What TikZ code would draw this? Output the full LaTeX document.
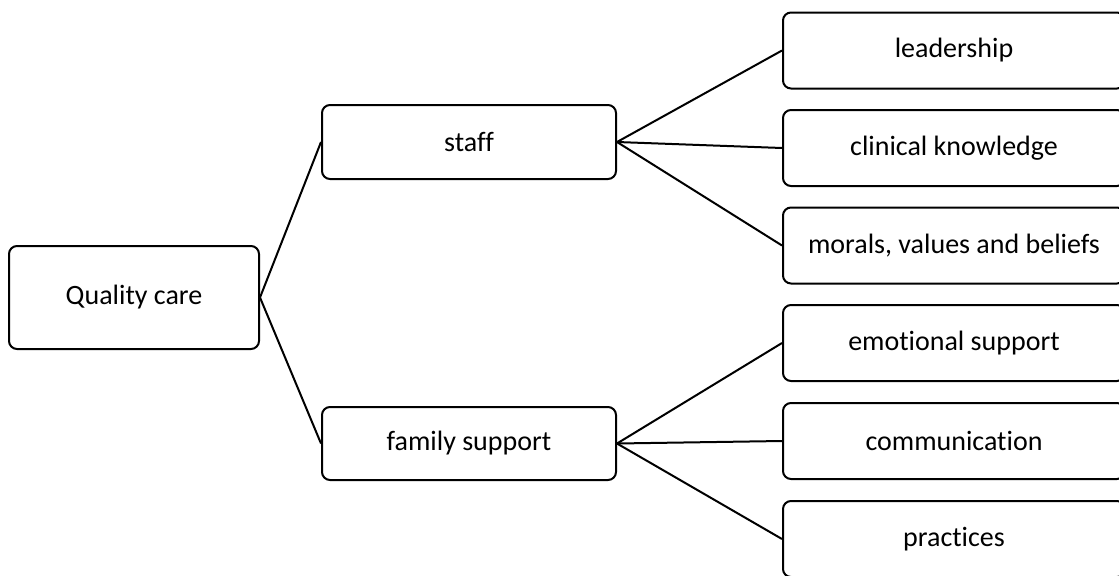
\documentclass[tikz,border=0pt]{standalone}
\usepackage{fontspec}
\setmainfont{Carlito}[Ligatures={NoCommon}]
\begin{document}
\begin{tikzpicture}[x=0.75pt,y=-0.75pt,
  box/.style={draw=black, line width=1.5pt, rounded corners=6pt, fill=white,
    inner sep=0pt, align=center, font=\fontsize{21}{25}\selectfont},
  leaf/.style={box, minimum width=342*0.75pt, minimum height=76*0.75pt},
  link/.style={draw=black, line width=1.5pt}]
  \useasboundingbox (0,0) rectangle (1119,575);
  \clip (0,0) rectangle (1119,575);
  % root
  \node[box, minimum width=250*0.75pt, minimum height=103*0.75pt] (qc) at (134,297.5) {Quality care};
  % second level
  \node[box, minimum width=294*0.75pt, minimum height=74*0.75pt] (staff) at (469,142) {staff};
  \node[box, minimum width=294*0.75pt, minimum height=73*0.75pt] (family) at (469,443.5) {family support};
  % leaves
  \node[leaf] (lead) at (954,50.5) {leadership};
  \node[leaf] (clin) at (954,148) {clinical knowledge};
  \node[leaf] (moral) at (954,245.5) {morals, values and beliefs};
  \node[leaf] (emo) at (954,343) {emotional support};
  \node[leaf] (comm) at (954,441) {communication};
  \node[leaf] (prac) at (954,539) {practices};
  % connectors
  \draw[link] (qc.east) -- (staff.west);
  \draw[link] (qc.east) -- (family.west);
  \foreach \t in {lead,clin,moral} \draw[link] (staff.east) -- (\t.west);
  \foreach \t in {emo,comm,prac} \draw[link] (family.east) -- (\t.west);
\end{tikzpicture}
\end{document}
